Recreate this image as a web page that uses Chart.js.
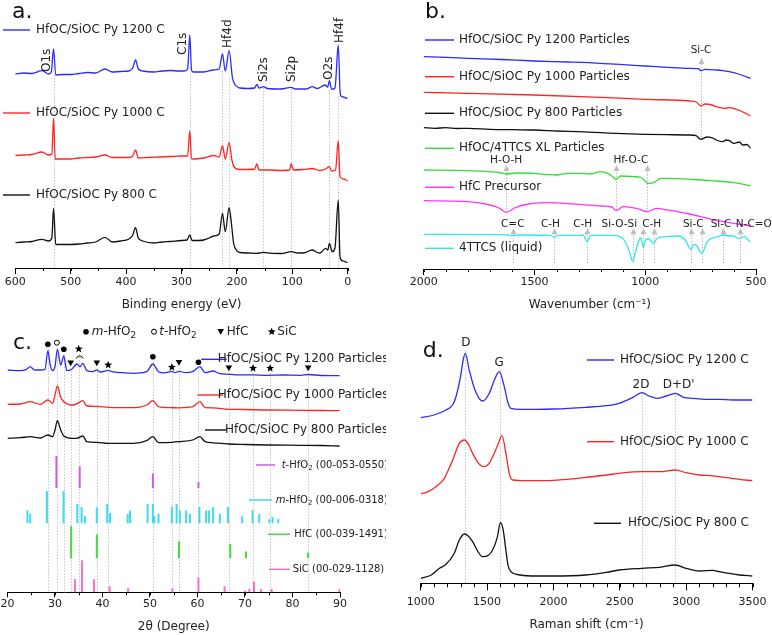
<!DOCTYPE html>
<html>
<head>
<meta charset="utf-8">
<title>HfOC/SiOC characterisation</title>
<script src="https://cdn.jsdelivr.net/npm/chart.js@4.4.1/dist/chart.umd.min.js"></script>
<style>
  body { margin: 0; background: #fff; width: 772px; height: 635px; overflow: hidden; position: relative; }
  canvas { position: absolute; }
</style>
</head>
<body>
<canvas id="xps" width="386" height="318" style="left:0;top:0"></canvas>
<canvas id="ftir" width="386" height="318" style="left:386px;top:0"></canvas>
<canvas id="xrd" width="386" height="317" style="left:0;top:318px"></canvas>
<canvas id="raman" width="386" height="317" style="left:386px;top:318px"></canvas>
<script>
// ---- a. XPS survey (binding energy eV, offset counts a.u.)
const xpsLabels = ['HfOC/SiOC Py 1200 C', 'HfOC/SiOC Py 1000 C', 'HfOC/SiOC Py 800 C'];
const xps1200 = [[600,194],[585,195],[570,194.5],[552,197.3],[540,194],[535,196],[531,219],[527,193],[515,193.5],[500,193.5],[485,194.5],[470,195.5],[455,195],[438,199],[425,196],[410,196.5],[395,197],[388,200],[383,208],[378,199],[370,197],[350,196],[335,197],[320,197.5],[305,197],[295,197],[289,199],[285,233],[282,198],[279,196],[260,196],[242,198],[232,199],[226,214],[221,197],[214,217.3],[208,190],[203,183],[195,180],[180,179.5],[168,180],[164,183.7],[160,180],[152,181.3],[145,179.5],[120,179],[102,180.7],[95,179],[75,179],[64,181.3],[55,179.5],[41,183],[36,181],[33,187.3],[29,178.7],[23,180],[17,223],[14,178],[12,172],[8,171],[3,170],[0,169.7]];
const xps1000 = [[600,112.5],[585,113],[570,113.5],[552,116],[540,113],[534,114],[531,149.7],[528,109],[515,109],[500,109],[485,110],[470,110.5],[455,111],[438,113],[425,110.5],[395,110.5],[388,112],[383,118],[378,110],[360,110.5],[340,111],[320,111.5],[300,112],[289,112],[285,137],[282,109.5],[279,109],[260,110],[242,112.5],[232,111],[226,122.3],[221,109],[214,125.3],[209,108],[205,101],[195,98.5],[180,98.5],[168,99],[164,104],[160,98],[140,98],[120,97.5],[105,98],[102,104.3],[98,98],[80,98.5],[64,99.5],[50,97.5],[40,99],[33,101.3],[29,97],[22,98],[17,127.3],[14,92],[12,90],[8,89],[3,88],[0,87]];
const xps800 = [[600,25.3],[585,26],[570,26.5],[552,28.7],[540,27],[534,30],[531,59.7],[527,23.5],[515,23.5],[500,23.5],[485,24],[470,25],[455,26],[438,30.7],[425,26],[410,27],[395,29],[388,33],[383,40.3],[378,30],[370,27],[350,25],[335,26],[320,26.5],[300,27.5],[290,28],[285,33],[281,27.5],[270,27.5],[260,28],[250,30],[242,32],[232,34],[226,54.7],[221,36.3],[214,60.3],[210,45],[206,25],[203,19.7],[195,15.5],[180,15],[165,14.7],[152,15.7],[140,14.8],[120,14.5],[102,16.3],[90,15],[80,15],[64,18],[55,15.5],[50,15],[40,19.7],[36,18],[33,24.7],[28,16.3],[23,20],[17,68],[14,12],[12,8],[8,7],[3,6],[0,5.3]];
const xpsPeaks = [531, 285, 226, 214, 152, 102, 33, 17];
const xpsNames = ['O1s', 'C1s', 'Hf4d', 'Si2s', 'Si2p', 'O2s', 'Hf4f'];

// ---- b. FTIR (wavenumber cm-1, offset transmittance a.u.)
const ftirLabels = ['HfOC/SiOC Py 1200 Particles', 'HfOC/SiOC Py 1000 Particles', 'HfOC/SiOC Py 800 Particles', 'HfOC/4TTCS XL Particles', 'HfC Precursor', '4TTCS (liquid)'];
const ftir1200 = [[2000,212.3],[1900,211.7],[1800,210.7],[1650,209.5],[1500,208],[1350,207],[1200,205.7],[1100,204.3],[1000,203],[900,201.7],[800,200.7],[760,200.3],[748,198.3],[730,199.7],[680,199],[650,198.3],[600,196.3],[560,193.5],[525,190.7]];
const ftir1000 = [[2000,176.7],[1800,175.7],[1500,174],[1200,171.7],[1000,169.7],[800,168],[770,167],[748,163],[730,165],[700,164],[680,162.3],[640,160.7],[620,161.3],[580,159],[550,156],[525,153]];
const ftir800 = [[2000,141.3],[1950,140.7],[1900,141.3],[1850,140.5],[1800,140.7],[1700,139.7],[1600,139.3],[1500,139],[1400,138],[1300,137.3],[1200,136.3],[1100,135.3],[1000,134.7],[900,134.3],[800,134],[770,133.3],[750,129.7],[720,132],[690,130.5],[680,129],[650,127.3],[635,129],[620,128.3],[600,125.7],[575,127],[560,124],[540,124.5],[525,120.7]];
const ftirXL = [[2000,99],[1800,98.3],[1700,97.3],[1660,96.5],[1628,95],[1580,96],[1500,95.7],[1440,94.3],[1400,94],[1350,95.7],[1300,95.7],[1250,95],[1200,97.3],[1170,95.7],[1145,92],[1132,89.7],[1110,93],[1050,92.3],[1020,91.5],[1000,88],[990,85.7],[960,86.7],[930,90.7],[850,90.3],[800,89.7],[700,88.3],[600,86.3],[525,83.3]];
const ftirPrecursor = [[2000,68.3],[1800,67.3],[1700,64],[1660,61],[1628,56.7],[1590,61],[1550,64],[1450,66.3],[1300,64.7],[1200,63],[1150,62],[1132,58.3],[1100,62.3],[1040,60.7],[990,57.3],[950,60.7],[900,59],[800,55],[700,49.7],[600,45.7],[525,43]];
const ftirLiquid = [[2000,34.7],[1700,34.3],[1620,34],[1598,33.3],[1580,34],[1430,33.7],[1410,31.7],[1390,33.7],[1280,33.7],[1263,27.3],[1245,33.7],[1150,33.7],[1110,32],[1085,25],[1070,16],[1057,8],[1045,16],[1030,28],[1020,31],[1009,21.7],[998,29],[985,30],[962,25.7],[945,31],[900,32.5],[850,33],[820,29],[793,19.7],[780,24.7],[770,24],[745,15.7],[720,27.3],[700,30.7],[670,32.5],[648,34],[620,33],[600,33],[585,31],[572,30.7],[560,32],[550,32.3],[540,30],[525,27.3]];
const ftirBands = [1598, 1410, 1263, 1057, 1009, 962, 793, 745, 648, 572];
const ftirBandNames = [['C=C', 1598], ['C-H', 1428], ['C-H', 1282], ['Si-O-Si', 1117], ['C-H', 971], ['Si-C', 783], ['Si-C', 658], ['N-C=O', 510]];

// ---- c. XRD (2theta deg, offset intensity a.u.) + reference patterns
const xrdLabels = ['HfOC/SiOC Py 1200 Particles', 'HfOC/SiOC Py 1000 Particles', 'HfOC/SiOC Py 800 Particles'];
const xrd1200 = [[20,222.3],[22.7,221.6],[24,223],[24.8,225.6],[25.6,222.5],[26.9,222.3],[27.9,223],[28.5,241.6],[29,227.3],[29.5,221.6],[30,225.6],[30.5,243],[31.2,227.3],[31.85,236.3],[32.5,221.6],[33.5,223],[34.6,228.3],[35.3,225.6],[35.85,229],[36.7,221.6],[38,220.6],[38.8,222.5],[39.6,220.3],[41.25,222],[42,220.6],[44,219.6],[46.5,219],[49.3,220.6],[50.6,228.3],[51.8,220.6],[53,219.5],[54.6,221],[55.3,219.6],[56.1,221],[57.5,219.6],[59,220.6],[60.5,225.6],[61.6,219.6],[63.3,221.3],[64.5,219],[66.6,218],[68,217.5],[71.7,217.5],[74.6,217],[78,217.3],[81.7,217],[83.3,217.8],[86,216.8],[89.9,216.6]];
const xrd1000 = [[20,188],[22.7,188.3],[24.8,190.6],[26.9,188],[28.5,192.3],[29.5,189],[30,197.3],[30.5,206.3],[31.2,195],[31.85,190.6],[33.5,187.3],[34.6,188.5],[35.85,191.6],[36.7,186.3],[38.8,186],[41.25,185],[46.5,184.6],[49.3,187.3],[50.6,191.6],[51.8,185.6],[54.6,184.6],[56.1,184.5],[59,185.6],[60.5,190.6],[61.6,184.6],[63.3,184.5],[66.6,183],[70,182.8],[74.6,182.3],[81.7,182],[86,181.8],[89.9,181.6]];
const xrd800 = [[20,154],[22.7,154.6],[24.8,155.6],[26.9,154.3],[28.5,157.3],[29.5,155.6],[30,162.3],[30.5,171.6],[31.2,162.3],[31.85,156.3],[33.5,154],[34.6,154],[35.85,156.3],[36.7,150.6],[38.8,150],[41.25,149],[46.5,149],[49.3,151.6],[50.6,155.6],[51.8,149.6],[54.6,150],[56.1,150.6],[59,152.3],[60.5,155.6],[61.6,150.6],[63.3,149.5],[66.6,148.3],[70,147.8],[74.6,147.3],[81.7,147],[86,146.8],[89.9,146.3]];
const tHfO2Pos = [30.3, 35.2, 50.6, 60.2];
const tHfO2Int = [100, 67, 45, 19];
const mHfO2Pos = [24.2, 24.8, 28.3, 31.8, 34.7, 35.6, 36.3, 38.8, 41.0, 41.6, 45.3, 45.8, 49.5, 50.6, 50.9, 51.8, 54.6, 55.6, 56.3, 57.6, 58.4, 60.4, 61.8, 62.4, 63.3, 64.7, 66.4, 69.4, 71.6, 73.0, 75.1, 75.8, 77.0];
const mHfO2Int = [41, 29, 100, 100, 60, 51, 22, 49, 60, 33, 29, 40, 60, 60, 22, 30, 52, 60, 40, 40, 30, 51, 40, 40, 51, 30, 51, 22, 41, 30, 13, 20, 13];
const hfcPos = [33.4, 38.8, 56.1, 66.9, 70.2, 83.3];
const hfcInt = [100, 74, 53, 45, 21, 18];
const sicPos = [34.2, 35.7, 38.2, 41.5, 45.4, 54.7, 60.2, 65.7, 70.0, 70.9, 71.9, 73.4, 75.6, 89.9];
const sicInt = [41, 100, 41, 19, 13, 13, 47, 19, 5, 10, 33, 10, 10, 10];
const phaseTypes = ['m', 't', 'm', 'c', 's', 'c', 's', 'm', 's', 'c', 'm', 'c', 's', 's', 'c'];
const phasePeaks = [28.5, 30.4, 31.85, 33.3, 35.0, 38.8, 41.2, 50.6, 54.6, 56.1, 60.2, 66.6, 71.7, 75.3, 83.3];

// ---- d. Raman (shift cm-1, offset intensity a.u.)
const ramanLabels = ['HfOC/SiOC Py 1200 C', 'HfOC/SiOC Py 1000 C', 'HfOC/SiOC Py 800 C'];
const raman1200 = [[1000,165.6],[1100,168.3],[1191,173.3],[1240,178.3],[1266,186.6],[1300,206.6],[1320,223.3],[1336,230],[1366,213],[1404,195],[1440,185],[1467,182.3],[1517,190],[1555,203.3],[1592,211.6],[1630,196.6],[1655,181.6],[1680,175],[1750,174],[1868,174],[2000,174.3],[2245,176],[2400,177.6],[2496,180],[2600,186],[2667,190.6],[2720,187.3],[2785,185],[2850,187.3],[2918,190],[2980,186],[3049,185],[3150,184],[3250,184],[3350,183.3],[3500,183.3]];
const raman1000 = [[1000,89.3],[1060,92],[1115,96.6],[1178,105],[1241,123.3],[1291,140],[1329,143.3],[1360,139],[1391,130],[1430,121],[1472,116.6],[1510,119],[1542,126.6],[1580,138],[1612,147.6],[1642,130],[1667,110],[1693,103.3],[1800,102.6],[1950,102.6],[2100,104],[2245,106],[2400,108.3],[2496,110],[2667,111.6],[2800,111.6],[2918,113.3],[3000,110.6],[3100,108.3],[3200,107.5],[3250,106.6],[3400,104],[3500,102.6]];
const raman800 = [[1000,5],[1080,8.3],[1141,15],[1191,19],[1253,30],[1291,43.3],[1329,49.3],[1360,47],[1391,41.6],[1430,32],[1467,26.6],[1510,28],[1542,33.3],[1575,45],[1601,60.6],[1622,53],[1640,35],[1658,18],[1680,11.6],[1750,8.3],[1868,7.3],[2000,7.3],[2245,8.3],[2400,11],[2496,13.3],[2667,15],[2800,16],[2918,18.3],[3000,15],[3100,12.3],[3200,13],[3250,11.6],[3400,8.3],[3500,7.3]];
const ramanBands = [1336, 1600, 2667, 2918];
const ramanBandNames = [['D', 1340], ['G', 1592], ['2D', 2660], ["D+D'", 2943]];

const BLUE = '#2b2bff', RED = '#ff2424', BLACK = '#111111', GREEN = '#36dc36', MAGENTA = '#ff33ff', CYAN = '#2ee8ee';
const FONT = '"DejaVu Sans", sans-serif';
const INK = '#222';

Chart.defaults.font.family = FONT;
Chart.defaults.color = INK;

function series(label, color, pts) {
  return { label, data: pts.map(p => ({ x: p[0], y: p[1] })), borderColor: color, borderWidth: 1.3,
    pointRadius: 0, fill: false, cubicInterpolationMode: 'monotone' };
}

function sticks(label, color, pos, inten, base) {
  const data = [];
  pos.forEach((p, i) => {
    data.push({ x: p, y: base }, { x: p, y: base + inten[i] * 0.32 }, { x: p, y: null });
  });
  return { label, data, borderColor: color, borderWidth: 2, pointRadius: 0, fill: false, tension: 0, spanGaps: false };
}

function px(c, v) { return c.scales.x.getPixelForValue(v); }
function py(c, v) { return c.scales.y.getPixelForValue(v); }

function guide(c, v, top) {
  const ctx = c.ctx, X = Math.round(px(c, v)) + 0.5;
  ctx.save();
  ctx.strokeStyle = '#c6c6c6'; ctx.lineWidth = 1; ctx.setLineDash([1.5, 1.5]);
  ctx.beginPath(); ctx.moveTo(X, py(c, top)); ctx.lineTo(X, c.chartArea.bottom); ctx.stroke();
  ctx.restore();
}

function upArrow(c, v, from, to) {
  const ctx = c.ctx, X = Math.round(px(c, v)) + 0.5, y1 = py(c, from), y2 = py(c, to);
  ctx.save();
  ctx.strokeStyle = '#bdbdbd'; ctx.lineWidth = 1; ctx.setLineDash([1.5, 1.5]);
  ctx.beginPath(); ctx.moveTo(X, y1); ctx.lineTo(X, y2 + 5); ctx.stroke();
  ctx.setLineDash([]); ctx.fillStyle = '#bdbdbd';
  ctx.beginPath(); ctx.moveTo(X, y2); ctx.lineTo(X - 3, y2 + 6); ctx.lineTo(X + 3, y2 + 6); ctx.closePath(); ctx.fill();
  ctx.restore();
}

function label(ctx, s, x, y, size, align) {
  ctx.save();
  ctx.font = size + 'px ' + FONT; ctx.fillStyle = INK;
  ctx.textAlign = align || 'left'; ctx.textBaseline = 'middle';
  ctx.fillText(s, x, y);
  ctx.restore();
}

function vlabel(ctx, s, x, y, size) {
  ctx.save();
  ctx.translate(x, y); ctx.rotate(-Math.PI / 2);
  ctx.font = size + 'px ' + FONT; ctx.fillStyle = INK;
  ctx.textAlign = 'left'; ctx.textBaseline = 'alphabetic';
  ctx.fillText(s, 0, 0);
  ctx.restore();
}

function keyLine(ctx, x1, x2, y, color, w) {
  ctx.save();
  ctx.strokeStyle = color; ctx.lineWidth = w || 1.4;
  ctx.beginPath(); ctx.moveTo(x1, y); ctx.lineTo(x2, y); ctx.stroke();
  ctx.restore();
}

function letter(ctx, s, x, y) {
  ctx.save();
  ctx.font = '22px ' + FONT; ctx.fillStyle = '#111';
  ctx.textAlign = 'left'; ctx.textBaseline = 'alphabetic';
  ctx.fillText(s, x, y);
  ctx.restore();
}

// parts: [text, 'it' | 'sub' | undefined]
function rich(ctx, parts, x, y, size) {
  ctx.save();
  ctx.fillStyle = INK; ctx.textBaseline = 'middle'; ctx.textAlign = 'left';
  let cx = x;
  for (const [t, st] of parts) {
    const fs = st === 'sub' ? Math.round(size * 0.72) : size;
    ctx.font = (st === 'it' ? 'italic ' : '') + fs + 'px ' + FONT;
    ctx.fillText(t, cx, st === 'sub' ? y + size * 0.32 : y);
    cx += ctx.measureText(t).width;
  }
  ctx.restore();
  return cx;
}

function marker(ctx, type, x, y) {
  ctx.save();
  ctx.fillStyle = '#000'; ctx.strokeStyle = '#000'; ctx.lineWidth = 1;
  ctx.beginPath();
  if (type === 'm') {
    ctx.arc(x, y, 2.8, 0, 2 * Math.PI); ctx.fill();
  } else if (type === 't') {
    ctx.arc(x, y, 2.5, 0, 2 * Math.PI); ctx.stroke();
  } else if (type === 'c') {
    ctx.moveTo(x - 3.3, y - 2.8); ctx.lineTo(x + 3.3, y - 2.8); ctx.lineTo(x, y + 3); ctx.closePath(); ctx.fill();
  } else {
    for (let k = 0; k < 10; k++) {
      const r = k % 2 ? 1.8 : 4.2, a = -Math.PI / 2 + k * Math.PI / 5;
      const X = x + r * Math.cos(a), Y = y + r * Math.sin(a);
      if (k) ctx.lineTo(X, Y); else ctx.moveTo(X, Y);
    }
    ctx.closePath(); ctx.fill();
  }
  ctx.restore();
}

const minorTicks = {
  id: 'minorTicks',
  afterDraw(c, args, o) {
    if (!o.step) return;
    const s = c.scales.x, ctx = c.ctx, y = c.chartArea.bottom;
    ctx.save();
    ctx.strokeStyle = '#000'; ctx.lineWidth = 1;
    for (let v = s.min; v <= s.max + 1e-6; v += o.step) {
      const X = Math.round(s.getPixelForValue(v)) + 0.5;
      ctx.beginPath(); ctx.moveTo(X, y); ctx.lineTo(X, y + o.len); ctx.stroke();
    }
    ctx.restore();
  }
};

function options(o) {
  return {
    responsive: false, animation: false, devicePixelRatio: 1,
    layout: { padding: { left: o.left, right: o.right, top: 0, bottom: 0 } },
    plugins: {
      legend: { display: false }, tooltip: { enabled: false },
      minorTicks: { step: o.minor, len: o.minorLen }
    },
    scales: {
      x: {
        type: 'linear', min: o.min, max: o.max, reverse: !!o.reverse,
        afterFit: s => { s.height = o.axisH; },
        border: { display: true, color: '#000', width: 1 },
        grid: { display: true, drawOnChartArea: false, drawTicks: true, tickLength: o.tickLen, color: '#000', tickColor: '#000' },
        ticks: { stepSize: o.step, autoSkip: false, maxRotation: 0, padding: o.tickPad, font: { size: 11 }, color: INK,
          callback: v => String(v) },
        title: { display: true, text: o.title, font: { size: 12 }, color: INK, padding: { top: 0, bottom: o.titlePad } }
      },
      y: { display: false, min: 0, max: o.ymax }
    }
  };
}

// ---------- a. XPS
const xpsMarks = {
  id: 'xpsMarks',
  beforeDatasetsDraw(c) {
    const tops = [193, 196, 197, 190, 180, 179, 178, 172];
    xpsPeaks.forEach((p, i) => guide(c, p, tops[i]));
  },
  afterDatasetsDraw(c) {
    const ctx = c.ctx;
    letter(ctx, 'a.', 12, 18);
    const ys = [30, 113, 195];
    c.data.datasets.forEach((d, i) => {
      keyLine(ctx, 3, 30, ys[i], d.borderColor);
      label(ctx, d.label, 36, ys[i], 12);
    });
    const spots = [[537, 196], [292, 213], [211, 220], [146, 186], [95, 186], [29, 188], [9, 225]];
    xpsNames.forEach((n, i) => vlabel(ctx, n, px(c, spots[i][0]), py(c, spots[i][1]), 12));
  }
};

new Chart(document.getElementById('xps'), {
  type: 'line',
  data: { datasets: [series(xpsLabels[0], BLUE, xps1200), series(xpsLabels[1], RED, xps1000), series(xpsLabels[2], BLACK, xps800)] },
  options: options({ left: 15.3, right: 38.3, min: 0, max: 600, reverse: true, step: 100, minor: 50, minorLen: 3,
    tickLen: 6, tickPad: 1.5, axisH: 50, titlePad: 5.8, title: 'Binding energy (eV)', ymax: 268 }),
  plugins: [minorTicks, xpsMarks]
});

// ---------- b. FTIR
const ftirMarks = {
  id: 'ftirMarks',
  beforeDatasetsDraw(c) {
    upArrow(c, 748, 132, 211);
    upArrow(c, 1628, 57, 104);
    upArrow(c, 1132, 59, 104);
    upArrow(c, 990, 57, 104);
    ftirBands.forEach(b => upArrow(c, b, 5.7, 40.7));
  },
  afterDatasetsDraw(c) {
    const ctx = c.ctx;
    letter(ctx, 'b.', 39, 18);
    const ys = [40, 76.7, 113.3, 148.3, 187.3, 248.3];
    c.data.datasets.forEach((d, i) => {
      keyLine(ctx, 39, 68, ys[i], d.borderColor);
      label(ctx, d.label, 73, ys[i], 12);
    });
    label(ctx, 'Si-C', px(c, 748), py(c, 219), 10.5, 'center');
    label(ctx, 'H-O-H', px(c, 1628), py(c, 109), 10.5, 'center');
    label(ctx, 'Hf-O-C', px(c, 1065), py(c, 109), 10.5, 'center');
    ftirBandNames.forEach(([n, v]) => label(ctx, n, px(c, v), py(c, 45), 10.5, 'center'));
  }
};

new Chart(document.getElementById('ftir'), {
  type: 'line',
  data: { datasets: [series(ftirLabels[0], BLUE, ftir1200), series(ftirLabels[1], RED, ftir1000), series(ftirLabels[2], BLACK, ftir800),
    series(ftirLabels[3], GREEN, ftirXL), series(ftirLabels[4], MAGENTA, ftirPrecursor), series(ftirLabels[5], CYAN, ftirLiquid)] },
  options: options({ left: 37.7, right: 16, min: 500, max: 2000, reverse: true, step: 500, minor: 100, minorLen: 3,
    tickLen: 6, tickPad: 0.5, axisH: 49, titlePad: 5.8, title: 'Wavenumber (cm\u207B\u00B9)', ymax: 269 }),
  plugins: [minorTicks, ftirMarks]
});

// ---------- c. XRD
const xrdMarks = {
  id: 'xrdMarks',
  beforeDatasetsDraw(c) {
    const hs = [248, 249.6, 243, 229, 243.3, 229, 227.3, 235.6, 225, 229.6, 230, 224, 224, 224, 224];
    phasePeaks.forEach((p, i) => guide(c, p, hs[i] - 5));
  },
  afterDatasetsDraw(c) {
    const ctx = c.ctx;
    letter(ctx, 'c.', 13, 31.3);
    // phase key
    const hy = 13.7;
    marker(ctx, 'm', 86, hy); rich(ctx, [['m', 'it'], ['-HfO'], ['2', 'sub']], 91.7, hy, 12);
    marker(ctx, 't', 154, hy); rich(ctx, [['t', 'it'], ['-HfO'], ['2', 'sub']], 159.3, hy, 12);
    marker(ctx, 'c', 220.7, hy); rich(ctx, [['HfC']], 226.7, hy, 12);
    marker(ctx, 's', 271.7, hy); rich(ctx, [['SiC']], 277.3, hy, 12);
    // peak assignments
    const hs = [248, 249.6, 243, 229, 243.3, 229, 227.3, 235.6, 225, 229.6, 230, 224, 224, 224, 224];
    phasePeaks.forEach((p, i) => marker(ctx, phaseTypes[i], px(c, p), py(c, hs[i])));
    ctx.save();
    ctx.strokeStyle = '#000'; ctx.lineWidth = 1;
    const ax = (px(c, 34.6) + px(c, 35.85)) / 2, ay = py(c, 235.6);
    ctx.beginPath(); ctx.arc(ax, ay + 3, 3.6, Math.PI * 1.1, Math.PI * 1.9); ctx.stroke();
    ctx.restore();
    // sample keys (line runs under the start of the text)
    const keys = [[201, 226.7, 217.7, 41.3], [197.3, 223, 217.7, 77], [205, 226.7, 225, 112]];
    keys.forEach((k, i) => {
      const d = c.data.datasets[i];
      keyLine(ctx, k[0], k[1], k[3], d.borderColor);
      label(ctx, d.label, k[2], k[3], 12);
    });
    // reference pattern keys
    const refs = [
      [3, 256, 275, 281.7, 147, [['t', 'it'], ['-HfO'], ['2', 'sub'], [' (00-053-0550)']]],
      [4, 249, 272, 275.7, 182, [['m', 'it'], ['-HfO'], ['2', 'sub'], [' (00-006-0318)']]],
      [5, 268, 290, 294.3, 216.3, [['HfC (00-039-1491)']]],
      [6, 269, 290, 292.7, 251.3, [['SiC (00-029-1128)']]]
    ];
    refs.forEach(r => {
      keyLine(ctx, r[1], r[2], r[4], c.data.datasets[r[0]].borderColor, 1.5);
      rich(ctx, r[5], r[3], r[4], 10);
    });
  }
};

new Chart(document.getElementById('xrd'), {
  type: 'line',
  data: { datasets: [series(xrdLabels[0], BLUE, xrd1200), series(xrdLabels[1], RED, xrd1000), series(xrdLabels[2], BLACK, xrd800),
    sticks('t-HfO2 (00-053-0550)', '#d25ae6', tHfO2Pos, tHfO2Int, 104.3),
    sticks('m-HfO2 (00-006-0318)', '#3ddcec', mHfO2Pos, mHfO2Int, 69),
    sticks('HfC (00-039-1491)', '#3fdc3f', hfcPos, hfcInt, 34),
    sticks('SiC (00-029-1128)', '#ff6ccc', sicPos, sicInt, 0)] },
  options: options({ left: 7.3, right: 46, min: 20, max: 90, step: 10, minor: 5, minorLen: 3,
    tickLen: 5, tickPad: 0.5, axisH: 42.7, titlePad: 1.1, title: '2\u03B8 (Degree)', ymax: 274.3 }),
  plugins: [minorTicks, xrdMarks]
});

// ---------- d. Raman
const ramanMarks = {
  id: 'ramanMarks',
  beforeDatasetsDraw(c) {
    const tops = [233, 213, 191, 191];
    ramanBands.forEach((b, i) => guide(c, b, tops[i]));
  },
  afterDatasetsDraw(c) {
    const ctx = c.ctx;
    letter(ctx, 'd.', 36.7, 38.7);
    const hs = [240, 220, 198.3, 198.3];
    ramanBandNames.forEach(([n, v], i) => label(ctx, n, px(c, v), py(c, hs[i]), 12, 'center'));
    const keys = [[201, 228, 234, 42], [201, 228, 234, 123.7], [208, 235, 242, 205.3]];
    keys.forEach((k, i) => {
      const d = c.data.datasets[i];
      keyLine(ctx, k[0], k[1], k[3], d.borderColor);
      label(ctx, d.label, k[2], k[3], 12);
    });
  }
};

new Chart(document.getElementById('raman'), {
  type: 'line',
  data: { datasets: [series(ramanLabels[0], BLUE, raman1200), series(ramanLabels[1], RED, raman1000), series(ramanLabels[2], BLACK, raman800)] },
  options: options({ left: 34.7, right: 19.3, min: 1000, max: 3500, step: 500, minor: 100, minorLen: 4,
    tickLen: 7, tickPad: 5.5, axisH: 51.7, titlePad: 2.5, title: 'Raman shift (cm\u207B\u00B9)', ymax: 265.3 }),
  plugins: [minorTicks, ramanMarks]
});
</script>
</body>
</html>
